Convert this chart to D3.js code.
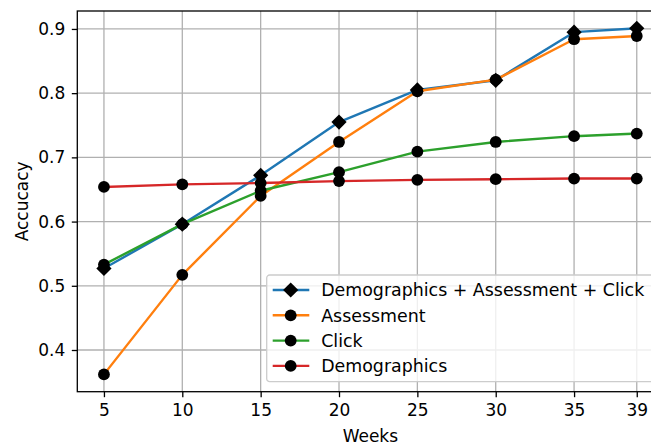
<!DOCTYPE html>
<html>
<head>
<meta charset="utf-8">
<script src="https://cdn.jsdelivr.net/npm/d3@7"></script>
<style>
  html, body { margin: 0; padding: 0; background: #fff; }
  svg { display: block; font-family: "DejaVu Sans", sans-serif; }
</style>
</head>
<body>
<svg id="chart" width="651" height="446"></svg>
<script>
const weeks = [5, 10, 15, 20, 25, 30, 35, 39];
const xTicks = [5, 10, 15, 20, 25, 30, 35, 39];
const yTicks = [0.4, 0.5, 0.6, 0.7, 0.8, 0.9];

const seriesNames = ["Demographics + Assessment + Click", "Assessment", "Click", "Demographics"];
const allValues = [0.527, 0.596, 0.672, 0.755, 0.805, 0.820, 0.895, 0.901];
const assessmentValues = [0.362, 0.517, 0.640, 0.724, 0.803, 0.821, 0.884, 0.889];
const clickValues = [0.533, 0.596, 0.648, 0.677, 0.709, 0.724, 0.733, 0.737];
const demographicsValues = [0.654, 0.658, 0.660, 0.663, 0.665, 0.666, 0.667, 0.667];
const seriesColors = ["#1f77b4", "#ff7f0e", "#2ca02c", "#d62728"];
const seriesMarkers = ["diamond", "circle", "circle", "circle"];

const series = [allValues, assessmentValues, clickValues, demographicsValues].map((vals, i) => ({
  name: seriesNames[i], color: seriesColors[i], marker: seriesMarkers[i],
  points: weeks.map((w, j) => ({ x: w, y: vals[j] }))
}));

const plot = { left: 77.3, top: 11, right: 663.4, bottom: 391.7 };
const FS = "17px";
const LFS = "17.4px";

const x = d3.scaleLinear().domain([3.3, 40.7]).range([plot.left, plot.right]);
const y = d3.scaleLinear().domain([0.33505, 0.92795]).range([plot.bottom, plot.top]);

const svg = d3.select("#chart");

// grid
const grid = svg.append("g");
grid.selectAll(".gx").data(xTicks).join("line")
  .attr("x1", d => x(d)).attr("x2", d => x(d))
  .attr("y1", plot.top).attr("y2", plot.bottom)
  .attr("stroke", "#b0b0b0").attr("stroke-width", 1.3);
grid.selectAll(".gy").data(yTicks).join("line")
  .attr("x1", plot.left).attr("x2", plot.right)
  .attr("y1", d => y(d)).attr("y2", d => y(d))
  .attr("stroke", "#b0b0b0").attr("stroke-width", 1.3);

// series
const line = d3.line().x(d => x(d.x)).y(d => y(d.y));
const diamond = (s) => `M0,${-s}L${s},0L0,${s}L${-s},0Z`;

series.forEach(s => {
  const g = svg.append("g");
  g.append("path").datum(s.points).attr("d", line)
    .attr("fill", "none").attr("stroke", s.color).attr("stroke-width", 2.4)
    .attr("stroke-linejoin", "round").attr("stroke-linecap", "square");
  if (s.marker === "diamond") {
    g.selectAll("path.m").data(s.points).join("path").attr("class", "m")
      .attr("d", diamond(7.6))
      .attr("transform", d => `translate(${x(d.x)},${y(d.y)})`)
      .attr("fill", "#000");
  } else {
    g.selectAll("circle").data(s.points).join("circle")
      .attr("cx", d => x(d.x)).attr("cy", d => y(d.y)).attr("r", 5.9)
      .attr("fill", "#000");
  }
});

// axes
const xAxis = d3.axisBottom(x).tickValues(xTicks).tickFormat(d3.format("d")).tickSize(5.5).tickPadding(6);
const yAxis = d3.axisLeft(y).tickValues(yTicks).tickFormat(d3.format(".1f")).tickSize(5.5).tickPadding(6.5);

const gx = svg.append("g").attr("transform", `translate(0,${plot.bottom})`).call(xAxis);
const gy = svg.append("g").attr("transform", `translate(${plot.left},0)`).call(yAxis);
[gx, gy].forEach(g => {
  g.select(".domain").remove();
  g.selectAll(".tick line").attr("stroke", "#000").attr("stroke-width", 1.3);
  g.selectAll(".tick text").attr("fill", "#000").style("font-size", FS).style("font-family", "DejaVu Sans");
});
gx.selectAll(".tick text").attr("dy", "0.78em");

// spines
svg.append("rect")
  .attr("x", plot.left).attr("y", plot.top)
  .attr("width", plot.right - plot.left).attr("height", plot.bottom - plot.top)
  .attr("fill", "none").attr("stroke", "#000").attr("stroke-width", 1.3);

// axis labels
svg.append("text").attr("x", (plot.left + plot.right) / 2).attr("y", 442)
  .attr("text-anchor", "middle").style("font-size", FS).attr("fill", "#000").text("Weeks");
svg.append("text")
  .attr("transform", `translate(28,${(plot.top + plot.bottom) / 2}) rotate(-90)`)
  .attr("text-anchor", "middle").style("font-size", FS).attr("fill", "#000").text("Accucacy");

// legend
const lg = svg.append("g").attr("transform", "translate(266.7,275)");
lg.append("rect").attr("x", 0).attr("y", 0).attr("width", 392).attr("height", 106.7)
  .attr("rx", 3).attr("fill", "#fff").attr("fill-opacity", 0.8)
  .attr("stroke", "#cccccc").attr("stroke-width", 1.3);
series.forEach((s, i) => {
  const yy = 15 + i * 25.3;
  const row = lg.append("g").attr("transform", `translate(0,${yy})`);
  row.append("line").attr("x1", 6).attr("x2", 42.6).attr("y1", 0).attr("y2", 0)
    .attr("stroke", s.color).attr("stroke-width", 2.4);
  if (s.marker === "diamond") {
    row.append("path").attr("d", diamond(7.6)).attr("transform", "translate(24,0)").attr("fill", "#000");
  } else {
    row.append("circle").attr("cx", 24).attr("cy", 0).attr("r", 5.9).attr("fill", "#000");
  }
  row.append("text").attr("x", 54.5).attr("y", 0).attr("dy", "0.36em")
    .style("font-size", LFS).attr("fill", "#000").text(s.name);
});
</script>
</body>
</html>
